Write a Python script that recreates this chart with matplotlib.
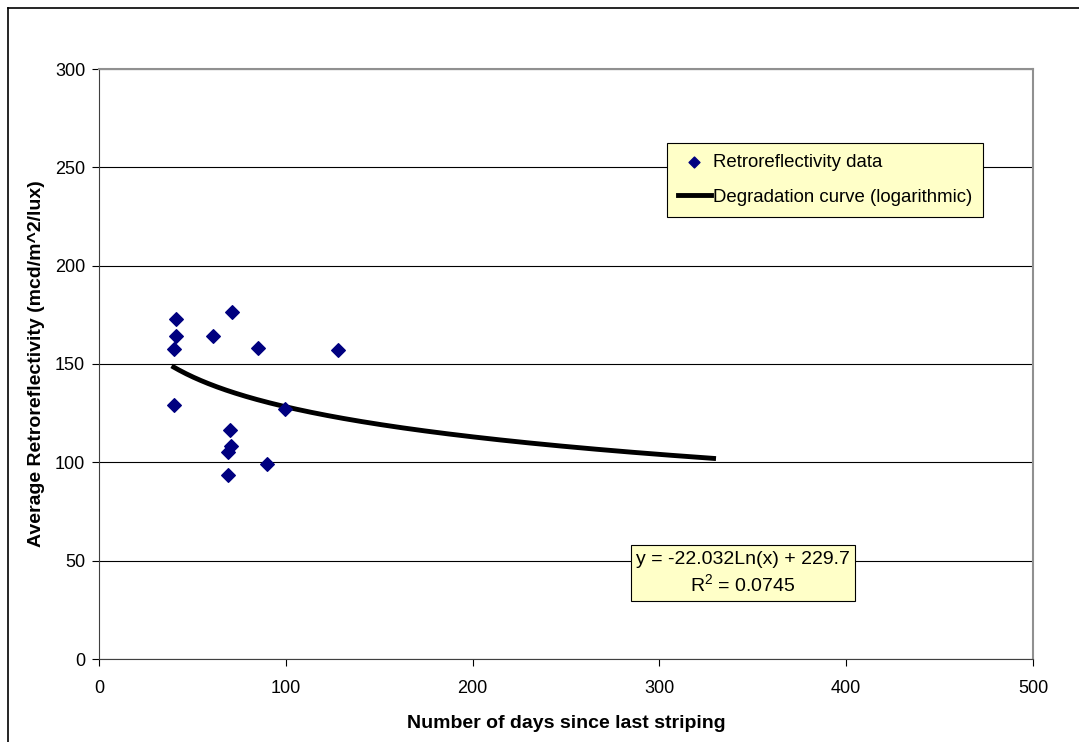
import numpy as np
import matplotlib
matplotlib.use("Agg")
import matplotlib.pyplot as plt
from matplotlib.lines import Line2D

plt.rcParams['font.family'] = ['Liberation Sans', 'DejaVu Sans']

days = [41.2, 41.2, 40.2, 71.2, 61.2, 85.0, 128.1, 40.2, 99.6, 70.1, 70.5, 68.9, 90.1, 68.9]
retro = [172.7, 164.4, 157.8, 176.6, 164.4, 158.3, 157.3, 129.4, 127.1, 116.6, 108.3, 105.4, 99.3, 93.5]
fit_slope = -22.032
fit_intercept = 229.7
fit_r2 = 0.0745
fit_range = [40, 329]

W, H = 1079, 742
fig = plt.figure(figsize=(W / 100, H / 100), dpi=100)
# outer chart border (top and left only visible)
fig.add_artist(Line2D([8 / W, 1], [1 - 8 / H, 1 - 8 / H], transform=fig.transFigure, color='black', linewidth=1.2))
fig.add_artist(Line2D([8 / W, 8 / W], [0, 1 - 8 / H], transform=fig.transFigure, color='black', linewidth=1.2))

ax = fig.add_axes([99 / W, 1 - 659 / H, 934 / W, 590 / H])

ax.set_xlim(0, 500)
ax.set_ylim(0, 300)
ax.set_xticks(np.arange(0, 501, 100))
ax.set_yticks(np.arange(0, 301, 50))
ax.yaxis.grid(True, color='black', linewidth=0.8)
ax.set_axisbelow(True)
for s in ['top', 'right']:
    ax.spines[s].set_color('#909090')
    ax.spines[s].set_linewidth(1.5)
for s in ['left', 'bottom']:
    ax.spines[s].set_color('#404040')
ax.tick_params(direction='out', length=5, labelsize=13, colors='black')
ax.tick_params(axis='x', pad=10)
ax.tick_params(axis='y', pad=5)

xf = np.linspace(fit_range[0], fit_range[1], 300)
yf = fit_slope * np.log(xf) + fit_intercept
ax.scatter(days, retro, marker='D', s=48, color='#000080', zorder=3, label='Retroreflectivity data')
ax.plot(xf, yf, color='black', linewidth=3.5, zorder=2, label='Degradation curve (logarithmic)')

ax.set_xlabel('Number of days since last striping', fontsize=14, fontweight='bold', labelpad=13)
ax.set_ylabel('Average Retroreflectivity (mcd/m^2/lux)', fontsize=14, fontweight='bold', labelpad=7)

leg = ax.legend(loc='upper left', bbox_to_anchor=((667 - 99) / 934, (659 - 143) / 590),
                fontsize=13.4, frameon=True, fancybox=False, facecolor='#FFFFC8', edgecolor='black',
                framealpha=1, borderpad=0.6, labelspacing=0.95, handlelength=1.75, handletextpad=0.12,
                borderaxespad=0, markerscale=0.8)
leg.get_frame().set_linewidth(0.8)

ax.text((743 - 99) / 934 * 500, (659 - 573) / 590 * 300,
        f'y = {fit_slope}Ln(x) + {fit_intercept}\n$\\mathregular{{R^2}}$ = {fit_r2}',
        ha='center', va='center', fontsize=14, linespacing=1.3,
        bbox=dict(boxstyle='square,pad=0.28', facecolor='#FFFFC8', edgecolor='black', linewidth=0.8))

fig.savefig('out.png', dpi=100)
